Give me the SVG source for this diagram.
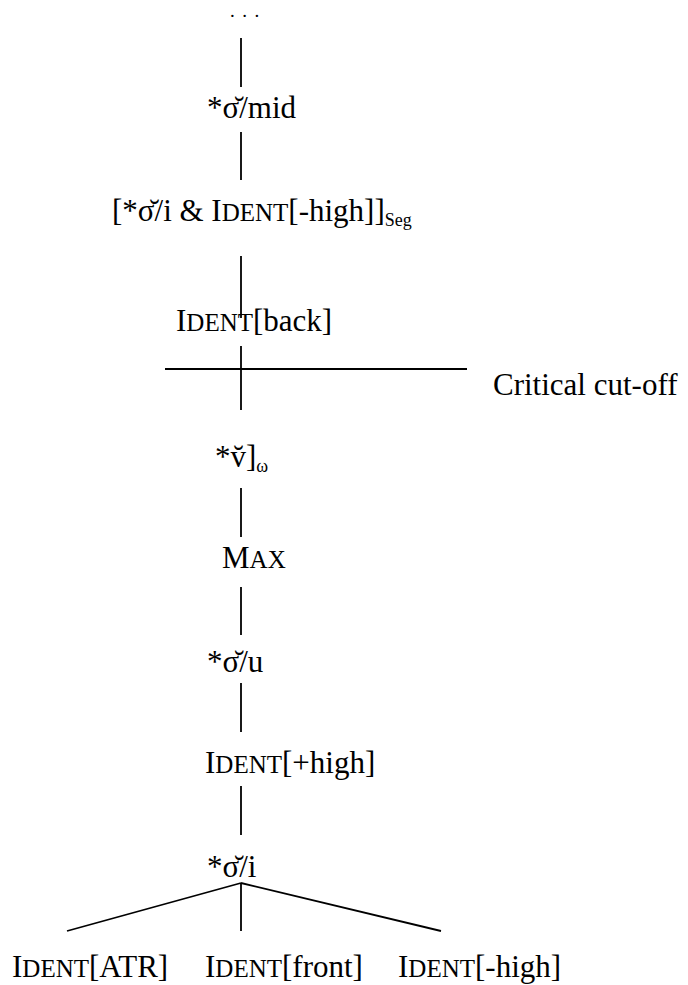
<svg xmlns="http://www.w3.org/2000/svg" width="688" height="985" viewBox="0 0 688 985">
<style>
text{font-family:"Liberation Serif","Times New Roman",serif;font-size:31px;fill:#000}
.sc{font-size:25px}
.sub{font-size:18px}
.dots{font-size:19px;letter-spacing:7.5px}
line{stroke:#000;stroke-width:1.8}
</style>
<rect width="688" height="985" fill="#fff"/>
<g id="connectors">
<line x1="241" y1="38" x2="241" y2="87"/>
<line x1="241" y1="132" x2="241" y2="180"/>
<line x1="241" y1="256" x2="241" y2="318"/>
<line x1="241" y1="346" x2="241" y2="410"/>
<line x1="165" y1="369" x2="467" y2="369"/>
<line x1="241" y1="488" x2="241" y2="537"/>
<line x1="241" y1="587" x2="241" y2="635"/>
<line x1="241" y1="683" x2="241" y2="732"/>
<line x1="241" y1="786" x2="241" y2="835"/>
<line x1="241" y1="883" x2="67" y2="931"/>
<line x1="241" y1="883" x2="241" y2="931"/>
<line x1="241" y1="883" x2="441" y2="931"/>
</g>
<g id="n-dots"><text class="dots" x="230" y="17">...</text></g>
<g id="n-mid"><text x="207" y="118">*σ̆/mid</text></g>
<g id="n-seg"><text x="112" y="221">[*σ̆/i &amp; I<tspan class="sc">DENT</tspan>[-high]]<tspan class="sub" dy="5">Seg</tspan></text></g>
<g id="n-back"><text x="176" y="331">I<tspan class="sc">DENT</tspan>[back]</text></g>
<g id="n-cutoff"><text x="493" y="395">Critical cut-off</text></g>
<g id="n-v"><text x="215" y="467">*v̆]<tspan class="sub" dy="5">ω</tspan></text></g>
<g id="n-max"><text x="222" y="568">M<tspan class="sc">AX</tspan></text></g>
<g id="n-u"><text x="207" y="672">*σ̆/u</text></g>
<g id="n-high"><text x="205" y="773">I<tspan class="sc">DENT</tspan>[+high]</text></g>
<g id="n-i"><text x="207" y="877">*σ̆/i</text></g>
<g id="n-atr"><text x="12" y="977">I<tspan class="sc">DENT</tspan>[ATR]</text></g>
<g id="n-front"><text x="205" y="977">I<tspan class="sc">DENT</tspan>[front]</text></g>
<g id="n-lowhigh"><text x="398" y="977">I<tspan class="sc">DENT</tspan>[-high]</text></g>
</svg>
